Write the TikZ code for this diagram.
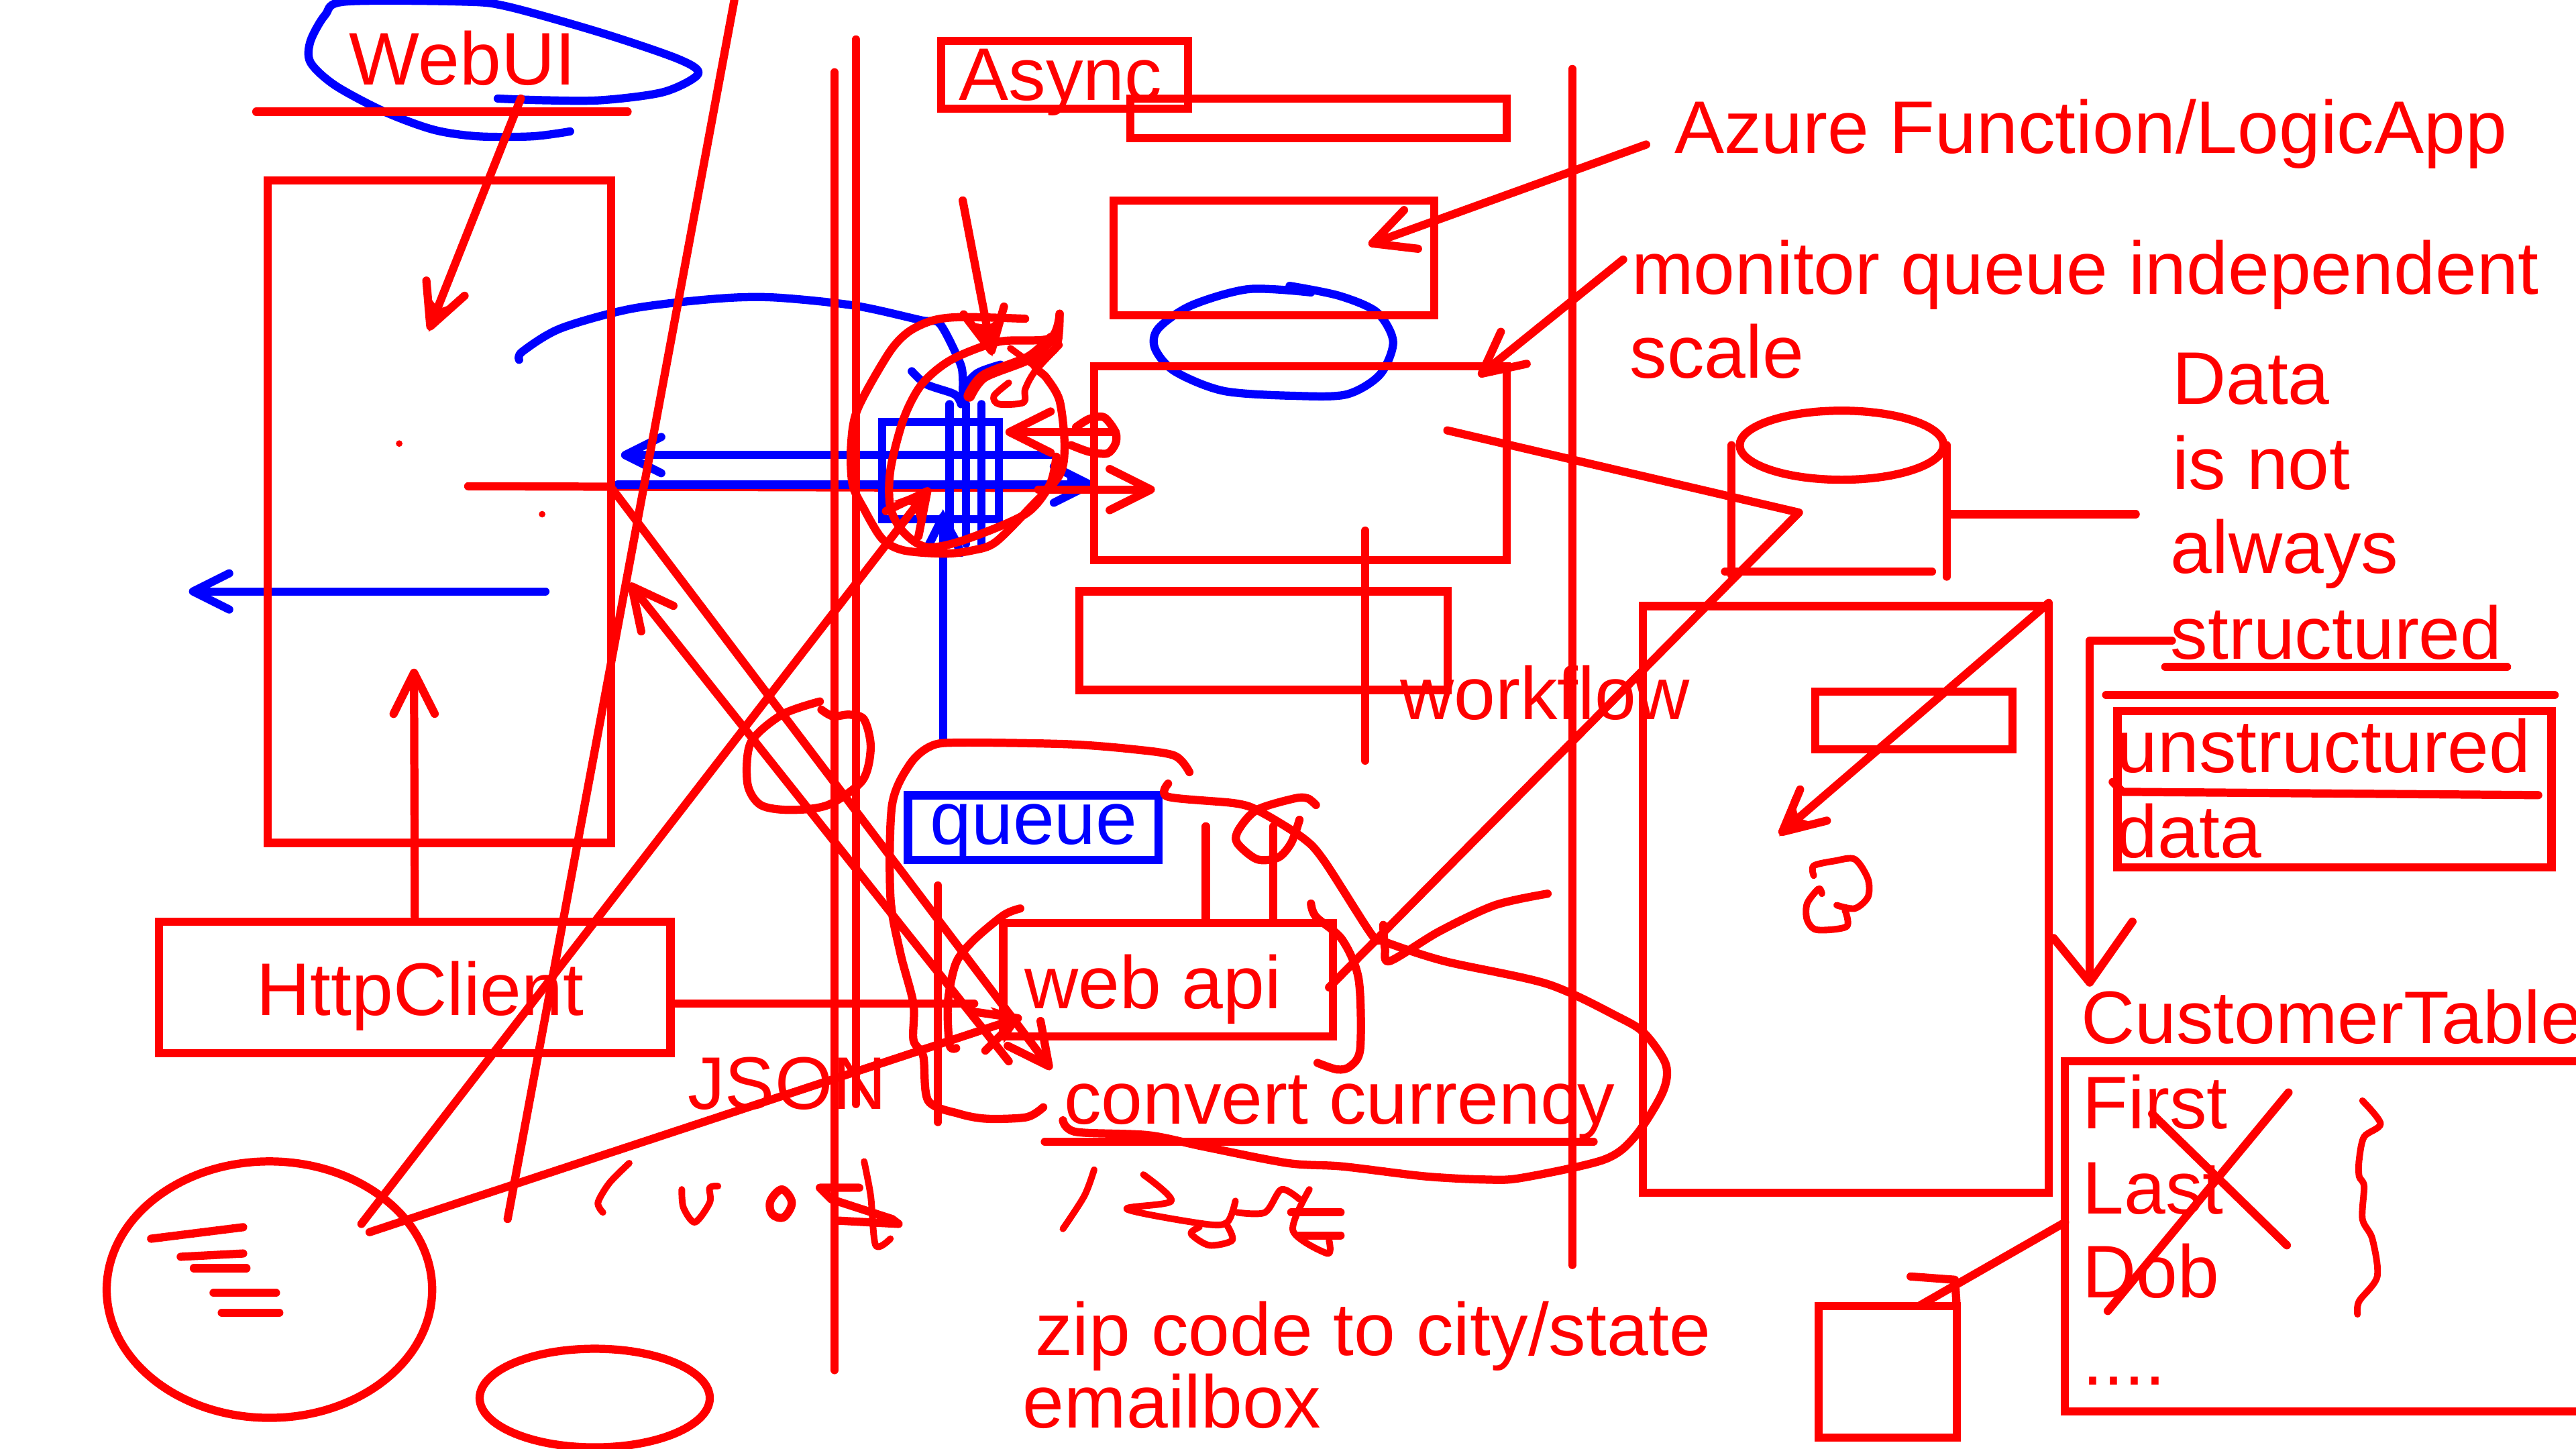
\documentclass[tikz,border=0pt]{standalone}
\usepackage{fontspec}
\setmainfont{Liberation Sans}
\usetikzlibrary{arrows.meta,shapes.geometric}

\begin{document}
\begin{tikzpicture}[x=0.01cm, y=-0.01cm,
  ink/.style={draw, red, line width=1.42pt, line cap=round, line join=round},
  fine/.style={ink, line width=1.15pt},
  pen/.style={ink, blue},
  box/.style={rectangle, draw, red, line width=1.42pt, inner sep=0pt},
  oval/.style={ellipse, draw, red, line width=1.42pt, inner sep=0pt},
  note/.style={inner sep=0pt, anchor=base west, text=red, font=\fontsize{12.9}{15}\selectfont},
  line/.style={ink, -{Straight Barb[length=2.5mm, width=2.5mm, round]}},
  blueline/.style={pen, -{Straight Barb[length=2.2mm, width=2.2mm, round]}}]

  \useasboundingbox (0,0) rectangle (1568,882);
  \clip (0,0) rectangle (1568,882);

  % red under the blue
  \draw [ink] (285,296) -- (632,297);

  % blue strokes
  \draw [pen] plot [smooth, tension=0.5] coordinates {(303,60) (330,61) (366,61) (404,56) (425,45) (413,36) (366,20) (309,4) (282,1) (210,1) (198,9) (189,25) (189,38) (204,52) (234,68) (264,79) (291,83) (324,83) (347,80)};
  \draw [pen] plot [smooth, tension=0.5] coordinates {(316,219) (318,214) (341,200) (384,188) (434,182) (470,181) (520,186) (561,195) (572,197) (584,220) (586,229) (586,242)};
  \draw [pen] plot [smooth, tension=0.5] coordinates {(555,226) (564,234) (581,240) (585,246)};
  \draw [pen] plot [smooth, tension=0.5] coordinates {(609,222) (595,227) (586,236)};
  \draw [pen] plot [smooth, tension=0.5] coordinates {(798,178) (760,176) (725,186) (705,200) (703,212) (715,226) (745,238) (790,241) (820,240) (840,228) (848,208) (838,190) (815,180) (785,174)};
  \node [box, blue, minimum width=0.71cm, minimum height=0.59cm] (grid) at (572.5,286.5) {};
  \draw [pen] (578,246) -- (578,331);
  \draw [pen] (588,246) -- (588,331);
  \draw [pen] (597.5,246) -- (597.5,331);
  \path [blueline] (640,277) -- (378,277);
  \path [blueline] (376,295) -- (666,295);
  \path [blueline] (574,452) -- (574,312);
  \path [blueline] (332,360) -- (115,360);
  \fill [blue] (649,285) -- (667,295) -- (642,308) -- (650,295) -- cycle;
  \fill [blue] (563,331) -- (574,310) -- (584,328) -- (574,322) -- cycle;

  % long rules
  \draw [ink] (508,44) -- (508,834);
  \draw [ink] (521,24) -- (521,672);
  \draw [ink] (957,42) -- (957,770);
  \draw [ink] (447,0) -- (309,742);
  \draw [ink] (156,68) -- (382,68);

  % boxes
  \node [box, minimum width=2.09cm, minimum height=4.03cm] (webapp) at (267.5,311.5) {};
  \node [box, minimum width=3.11cm, minimum height=0.80cm] (httpclient) at (252.5,601) {};
  \node [box, minimum width=1.50cm, minimum height=0.41cm] (asyncbox) at (648,45.5) {};
  \node [box, minimum width=2.29cm, minimum height=0.24cm] (bar) at (802.5,72) {};
  \node [box, minimum width=1.95cm, minimum height=0.70cm] (function) at (775.5,157) {};
  \node [box, minimum width=2.51cm, minimum height=1.18cm] (monitor) at (791.5,282) {};
  \node [box, minimum width=2.24cm, minimum height=0.60cm] (flow) at (769,390) {};
  \node [box, minimum width=2.47cm, minimum height=3.57cm] (store) at (1123.5,547.5) {};
  \node [box, minimum width=1.20cm, minimum height=0.35cm] (slot) at (1165,438.5) {};
  \node [box, minimum width=2.64cm, minimum height=0.95cm] (unstructured) at (1421,480.5) {};
  \node [box, minimum width=3.20cm, minimum height=2.13cm] (customer) at (1417,752.5) {};
  \node [box, minimum width=0.84cm, minimum height=0.80cm] (square) at (1149,835) {};
  \node [box, minimum width=2.005cm, minimum height=0.69cm] (webapi) at (711,596.5) {};
  \node [box, blue, minimum width=1.525cm, minimum height=0.395cm] (queuebox) at (629,503.8) {};
  \node [oval, minimum width=1.98cm, minimum height=1.56cm] (device) at (164,785) {};
  \node [oval, minimum width=1.40cm, minimum height=0.60cm] (disk) at (362,851) {};
  \node [oval, minimum width=1.24cm, minimum height=0.42cm] (dbtop) at (1121,271) {};

  % database
  \draw [ink] (1054,271) -- (1054,350);
  \draw [ink] (1185,271) -- (1185,351);
  \draw [ink] (1050,348) -- (1176,348);
  \draw [ink] (1187,313) -- (1300,313);

  % text
  \node [note] (webui) at (212,51.5) {WebUI};
  \node [note] (async) at (583,61) {Async};
  \node [note] (azure) at (1018.5,93.5) {Azure Function/LogicApp};
  \node [note] (mon) at (992.5,179) {monitor queue independent};
  \node [note] (scale) at (991.5,230) {scale};
  \node [note] (data1) at (1321.5,246) {Data};
  \node [note] (isnot) at (1321.5,298) {is not};
  \node [note] (always) at (1320.5,349) {always};
  \node [note] (structured) at (1320.5,401) {structured};
  \node [note] (unstr) at (1287.5,470) {unstructured};
  \node [note] (data2) at (1287.5,522) {data};
  \node [note] (workflow) at (851.5,438) {workflow};
  \node [note, text=blue] (queue) at (565.5,514) {queue};
  \node [note] (api) at (623,614) {web api};
  \node [note] (http) at (155.5,618) {HttpClient};
  \node [note] (json) at (418,675) {JSON};
  \node [note] (convert) at (647,684) {convert currency};
  \node [note] (table) at (1266,635) {CustomerTable};
  \node [note] (first) at (1267,687) {First};
  \node [note] (last) at (1267,739) {Last};
  \node [note] (dob) at (1267,790) {Dob};
  \node [note] (more) at (1267,843) {....};
  \node [note] (zip) at (629.5,825) {zip code to city/state};
  \node [note] (email) at (622,869) {emailbox};

  % arrows
  \path [line] (317,60) -- (261,201);
  \path [line] (586,122) -- (604,216);
  \path [line] (1002,88) -- (833,149);
  \path [line] (988,158) -- (900,229);
  \path [line] (632,298) -- (703,298);
  \path [line] (679,263) -- (612,263);
  \path [line] (httpclient.north) -- (252,407);
  \path [line] (220,745) -- (566,297);
  \path [line] (225,750) -- (622,619);
  \path [line] (373,298) -- (640,651);
  \path [line] (614,646) -- (383,355);
  \path [line] (1247,367) -- (1083,508);
  \fill [red] (258,176) -- (261,202) -- (279,184) -- (267,188) -- cycle;
  \fill [red] (589,196) -- (604,217) -- (611,191) -- (602,198) -- cycle;
  \fill [red] (544,305) -- (566,297) -- (560,322) -- (556,308) -- cycle;
  \fill [red] (603,613) -- (622,619) -- (611,635) -- (610,622) -- cycle;
  \fill [red] (1091,485) -- (1083,509) -- (1107,502) -- (1095,498) -- cycle;

  % plain strokes
  \draw [ink] (410,611) -- (593,611);
  \draw [ink] (881,262) -- (1095,312) -- (809,601);
  \draw [ink] (831,323) -- (831,463);
  \draw [ink] (734,503) -- (webapi.north -| 734,0);
  \draw [ink] (775,503) -- (webapi.north -| 775,0);
  \draw [ink] (571,539) -- (571,683);
  \draw [ink] (1318,406) -- (1526,406);
  \draw [ink] (1282,423) -- (1555,423);
  \draw [ink] (1286,476) -- (1292,482) -- (1545,484);
  \draw [ink] (1322,390) -| (1272,598);
  \draw [ink] (1250,571) -- (1272,598) -- (1298,561);
  \draw [ink] (1257,744) -- (1168,795);
  \draw [ink] (1163,777) -- (1190,779) -- (1191,795);
  \draw [ink] (1310,678) -- (1392,758);
  \draw [ink] (1393,665) -- (1283,798);
  \draw [ink] (92,754) -- (148,747);
  \draw [ink] (110,765) -- (148,763);
  \draw [ink] (118,772) -- (150,772);
  \draw [ink] (130,787) -- (168,787);
  \draw [ink] (135,799) -- (170,799);
  \fill [red] (243,270) circle (2);
  \fill [red] (330,313) circle (2);

  % blobs
  \draw [ink] plot [smooth, tension=0.5] coordinates {(624,194) (586,193) (568,195) (553,202) (541,215) (522,249) (518,272) (519,295) (526,310) (537,328) (550,335) (575,337) (592,335) (606,330) (628,308) (645,289) (648,271) (645,244) (637,230) (630,222) (643,211) (645,191)};
  \draw [ink] plot [smooth, tension=0.5] coordinates {(645,191) (639,206) (608,208) (579,219) (561,234) (550,255) (542,286) (542,309) (550,324) (564,333) (586,329) (624,313) (639,295) (643,278)};
  \draw [ink, line width=2pt] plot [smooth, tension=0.5] coordinates {(590,241) (599,229) (626,218) (640,206)};
  \draw [fine] plot [smooth, tension=0.5] coordinates {(645,210) (630,226) (624,237) (623,245) (608,246) (605,241) (614,233)};
  \draw [fine] (615,212) -- (630,223);
  \draw [ink] plot [smooth, tension=0.5] coordinates {(655,260) (663,255) (672,254) (679,263) (679,270) (674,276) (663,275) (652,271)};
  \draw [ink] plot [smooth, tension=0.5] coordinates {(499,427) (476,435) (457,452) (455,477) (463,490) (481,493) (504,490) (525,475) (530,455) (526,438) (517,435) (507,436) (500,432)};
  \draw [ink] plot [smooth, tension=0.5] coordinates {(724,470) (715,460) (689,456) (650,453) (585,452) (567,454) (554,465) (543,490) (542,546) (548,580) (556,611) (556,633) (562,643) (565,670) (584,678) (601,681) (625,680) (635,674)};
  \draw [ink] plot [smooth, tension=0.5] coordinates {(711,477) (711,485) (752,489) (767,494) (793,510) (806,524) (835,569) (842,573) (879,585) (942,599) (985,619) (1001,629) (1014,648) (1012,665) (995,692) (976,706) (926,717) (904,718) (867,716) (817,710) (784,708) (733,698) (699,691) (655,689) (647,682)};
  \draw [ink] plot [smooth, tension=0.5] coordinates {(801,490) (796,486) (788,486) (765,493) (754,505) (753,513) (765,523) (778,522) (786,513) (791,499)};
  \draw [ink] plot [smooth, tension=0.5] coordinates {(621,553) (611,557) (593,572) (582,586) (577,610) (578,636) (582,638)};
  \draw [ink] plot [smooth, tension=0.5] coordinates {(798,550) (801,558) (817,572) (827,596) (828,638) (822,649) (814,651) (802,647)};
  \draw [ink] plot [smooth, tension=0.5] coordinates {(942,544) (910,551) (876,567) (846,585) (843,577) (842,563)};
  \draw [fine] plot [smooth, tension=0.5] coordinates {(1104,533) (1104,527) (1117,524) (1129,523) (1137,535) (1137,546) (1129,553) (1118,551)};
  \draw [fine] plot [smooth, tension=0.5] coordinates {(1109,544) (1107,541) (1100,550) (1100,560) (1106,566) (1124,564) (1123,554)};
  \draw [fine] plot [smooth, tension=0.5] coordinates {(1438,670) (1449,684) (1439,692) (1436,706) (1436,716) (1439,722) (1438,742) (1444,754) (1447,777) (1436,792) (1435,800)};

  % handwriting under the table
  \draw [fine] plot [smooth, tension=0.5] coordinates {(383,708) (371,720) (364,732) (367,738)};
  \draw [fine] plot [smooth, tension=0.5] coordinates {(415,724) (416,735) (423,744) (432,732) (432,723) (437,722)};
  \draw [ink] plot [smooth cycle, tension=0.6] coordinates {(476,724) (482,732) (477,741) (470,739) (469,731)};
  \draw [ink] (523,723) -- (499,723) -- (506,730) -- (543,742) -- (547,745) -- (510,743);
  \draw [fine] plot [smooth, tension=0.5] coordinates {(526,707) (530,728) (533,758) (542,754)};
  \draw [fine] plot [smooth, tension=0.5] coordinates {(666,712) (660,728) (647,748)};
  \draw [fine] plot [smooth, tension=0.5] coordinates {(696,715) (713,731) (686,736) (733,745) (747,744) (752,731)};
  \draw [fine] plot [smooth, tension=0.5] coordinates {(747,746) (750,755) (736,758) (725,751) (730,747)};
  \draw [fine] plot [smooth, tension=0.5] coordinates {(753,738) (770,738) (780,724) (791,730)};
  \draw [fine] plot [smooth, tension=0.5] coordinates {(797,724) (787,749) (808,763) (809,755)};
  \draw [ink] (786,738) -- (816,738);
  \draw [ink] (791,752) -- (816,752);
  \draw [ink] (636,695) -- (970,695);
\end{tikzpicture}
\end{document}
